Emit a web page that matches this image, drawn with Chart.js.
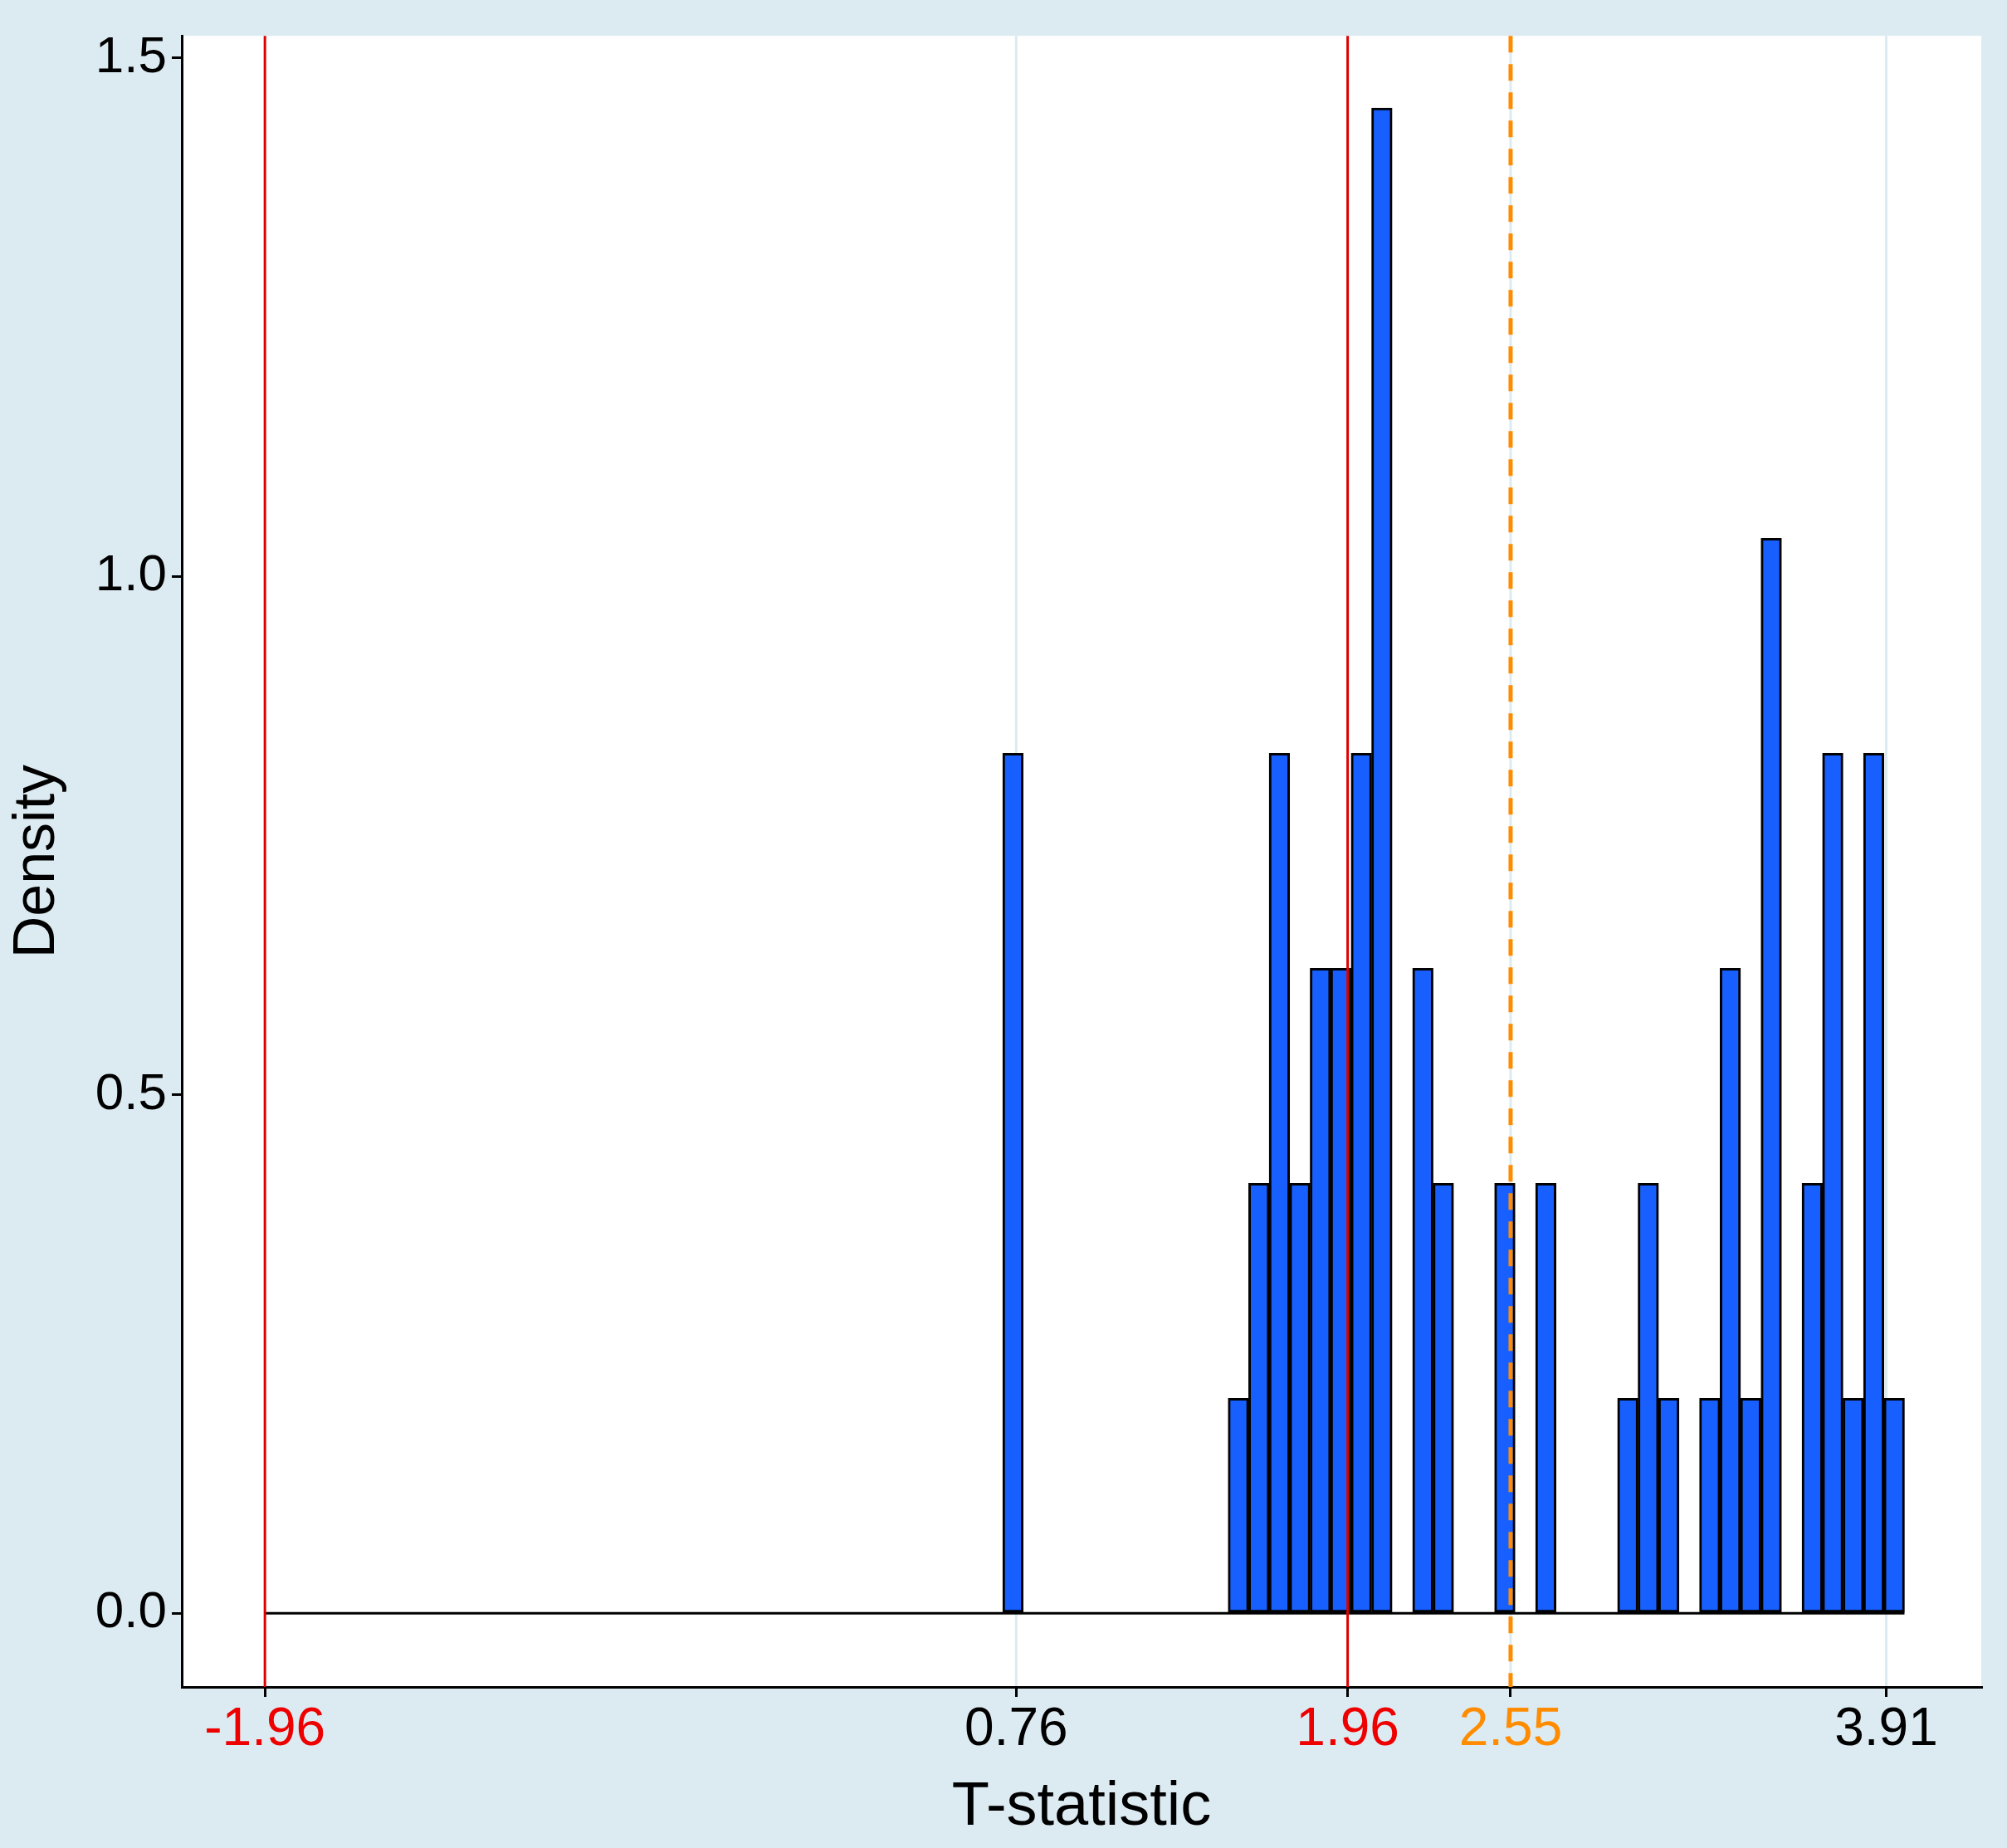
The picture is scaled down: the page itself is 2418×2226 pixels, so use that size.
<!DOCTYPE html>
<html>
<head>
<meta charset="utf-8">
<script src="https://cdn.jsdelivr.net/npm/chart.js@4"></script>
<style>
  html, body { margin: 0; padding: 0; background: #dcebf2; }
  #wrap { width: 2418px; height: 2226px; }
</style>
</head>
<body>
<div id="wrap"><canvas id="hist"></canvas></div>
<script>
// histogram: 80 bins starting at -1.96, n = 65
const binStart = -1.96;
const binWidth = 0.0742;
const binCounts = [
  0,0,0,0,0,0,0,0,0,0, 0,0,0,0,0,0,0,0,0,0,
  0,0,0,0,0,0,0,0,0,0, 0,0,0,0,0,0,4,0,0,0,
  0,0,0,0,0,0,0,1,2,4, 2,3,3,4,7,0,3,2,0,0,
  2,0,2,0,0,0,1,2,1,0, 1,3,1,5,0,2,4,1,4,1
];
const xTicks = [-1.96, 0.76, 1.96, 2.55, 3.91];
const xTickColors = ['#ee0000', '#000000', '#ee0000', '#ff8c00', '#000000'];
const yTicks = [0, 0.5, 1.0, 1.5];
const redLines = [-1.96, 1.96];
const meanLine = 2.55;
const gridLines = [0.76, 2.55, 3.91];

const total = binCounts.reduce((a, b) => a + b, 0);
const barData = binCounts.map((c, i) => ({ x: binStart + (i + 0.5) * binWidth, y: c / (total * binWidth) }));
const baseline = [{ x: binStart, y: 0 }, { x: binStart + binCounts.length * binWidth, y: 0 }];

const refLines = {
  id: 'refLines',
  beforeDraw(chart) {
    const { ctx, chartArea: a } = chart;
    ctx.save();
    ctx.fillStyle = '#ffffff';
    ctx.fillRect(a.left, a.top, a.right - a.left, a.bottom - a.top);
    const xs = chart.scales.x;
    ctx.strokeStyle = '#dcebf2';
    ctx.lineWidth = 3;
    gridLines.forEach(v => {
      const px = xs.getPixelForValue(v);
      ctx.beginPath(); ctx.moveTo(px, a.top); ctx.lineTo(px, a.bottom); ctx.stroke();
    });
    ctx.restore();
  },
  afterDatasetsDraw(chart) {
    const { ctx, chartArea: a } = chart;
    const xs = chart.scales.x;
    ctx.save();
    ctx.strokeStyle = '#dd0000';
    ctx.lineWidth = 3;
    redLines.forEach(v => {
      const px = xs.getPixelForValue(v);
      ctx.beginPath(); ctx.moveTo(px, a.top); ctx.lineTo(px, a.bottom); ctx.stroke();
    });
    ctx.strokeStyle = '#ff8c00';
    ctx.lineWidth = 5;
    ctx.setLineDash([20, 14]);
    const px = xs.getPixelForValue(meanLine);
    ctx.beginPath(); ctx.moveTo(px, a.top); ctx.lineTo(px, a.bottom); ctx.stroke();
    ctx.restore();
  }
};

new Chart(document.getElementById('hist').getContext('2d'), {
  type: 'bar',
  data: {
    datasets: [{
      type: 'line',
      data: baseline,
      borderColor: '#000000',
      borderWidth: 3,
      pointRadius: 0,
      order: 2
    }, {
      data: barData,
      backgroundColor: '#1760ff',
      borderColor: '#000000',
      borderWidth: 3,
      borderSkipped: false,
      barPercentage: 1.0,
      categoryPercentage: 1.0,
      grouped: false,
      order: 1
    }]
  },
  plugins: [refLines],
  options: {
    responsive: true,
    maintainAspectRatio: false,
    animation: false,
    layout: { padding: { top: 23, right: 31, left: 0, bottom: 0 } },
    plugins: { legend: { display: false }, tooltip: { enabled: false } },
    scales: {
      x: {
        type: 'linear',
        offset: false,
        min: -2.261, max: 4.254,
        afterBuildTicks: s => { s.ticks = xTicks.map(v => ({ value: v })); },
        afterFit: s => { s.height = 194; },
        grid: { display: true, offset: false, drawOnChartArea: false, drawTicks: true, tickLength: 12, color: '#000000', lineWidth: 3 },
        border: { display: true, color: '#000000', width: 3 },
        ticks: {
          autoSkip: false, maxRotation: 0,
          color: ctx => xTickColors[ctx.index],
          font: { family: 'Liberation Sans', size: 64 },
          padding: 2,
          callback: v => v.toFixed(2)
        },
        title: { display: true, text: 'T-statistic', color: '#000000', font: { family: 'Liberation Sans', size: 74 }, padding: { top: 0 } }
      },
      y: {
        min: -0.071, max: 1.521,
        afterBuildTicks: s => { s.ticks = yTicks.map(v => ({ value: v })); },
        afterFit: s => { s.width = 219; },
        grid: { display: true, drawOnChartArea: false, drawTicks: true, tickLength: 12, color: '#000000', lineWidth: 3 },
        border: { display: true, color: '#000000', width: 3 },
        ticks: {
          color: '#000000',
          font: { family: 'Liberation Sans', size: 62 },
          padding: 6,
          callback: v => v.toFixed(1)
        },
        title: { display: true, text: 'Density', color: '#000000', font: { family: 'Liberation Sans', size: 70 }, padding: { bottom: 0 } }
      }
    }
  }
});
</script>
</body>
</html>
